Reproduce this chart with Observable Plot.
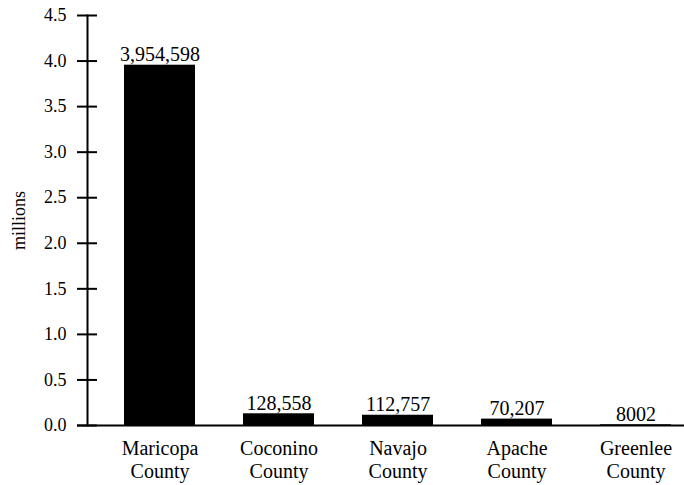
<!DOCTYPE html>
<html>
<head>
<meta charset="utf-8">
<script src="https://cdn.jsdelivr.net/npm/d3@7"></script>
<script src="https://cdn.jsdelivr.net/npm/@observablehq/plot@0.6"></script>
<style>
  html, body { margin: 0; padding: 0; background: #fff; }
  svg { font-family: "Liberation Serif", "Times New Roman", serif; }
</style>
</head>
<body>
<div id="chart"></div>
<script>
const counties = ["Maricopa County", "Coconino County", "Navajo County", "Apache County", "Greenlee County"];
const populations = [3954598, 128558, 112757, 70207, 8002];
const valueLabels = ["3,954,598", "128,558", "112,757", "70,207", "8002"];
const yTicks = [0, 0.5, 1.0, 1.5, 2.0, 2.5, 3.0, 3.5, 4.0, 4.5];

const data = counties.map((c, i) => ({county: c, millions: populations[i] / 1e6, label: valueLabels[i]}));

const serif = "Liberation Serif, Times New Roman, serif";

const chart = Plot.plot({
  width: 684,
  height: 485,
  marginLeft: 87,
  marginRight: 0,
  marginTop: 15,
  marginBottom: 60,
  style: {fontFamily: serif, background: "#fff", color: "#000"},
  x: {domain: counties, paddingInner: 0.406, paddingOuter: 0.205, align: 0.735, label: null},
  y: {domain: [0, 4.5], label: null},
  marks: [
    Plot.barY(data, {x: "county", y: "millions", fill: "#000"}),
    Plot.text(data, {x: "county", y: "millions", text: "label", lineAnchor: "bottom", dy: -4, fontSize: 20, fill: "#000"}),
    Plot.ruleY([0], {stroke: "#000", strokeWidth: 2, insetLeft: -10}),
    Plot.frame({anchor: "left", stroke: "#000", strokeWidth: 2}),
    Plot.axisY({ticks: yTicks, tickSize: 20, dx: 10, tickFormat: () => "", strokeWidth: 2, label: null}),
    Plot.axisY({ticks: yTicks, tickSize: 0, tickPadding: 21, tickFormat: d3.format(".1f"), fontSize: 18, label: null}),
    Plot.axisX({tickSize: 0, tickPadding: 14, tickFormat: d => d.replace(" ", "\n"), fontSize: 20, lineHeight: 1.12, label: null}),
    Plot.text(["millions"], {frameAnchor: "left", textAnchor: "middle", dx: -68, y: [2.25], text: d => d, rotate: -90, fontSize: 18, fill: "#000"})
  ]
});
document.getElementById("chart").appendChild(chart);
</script>
</body>
</html>
